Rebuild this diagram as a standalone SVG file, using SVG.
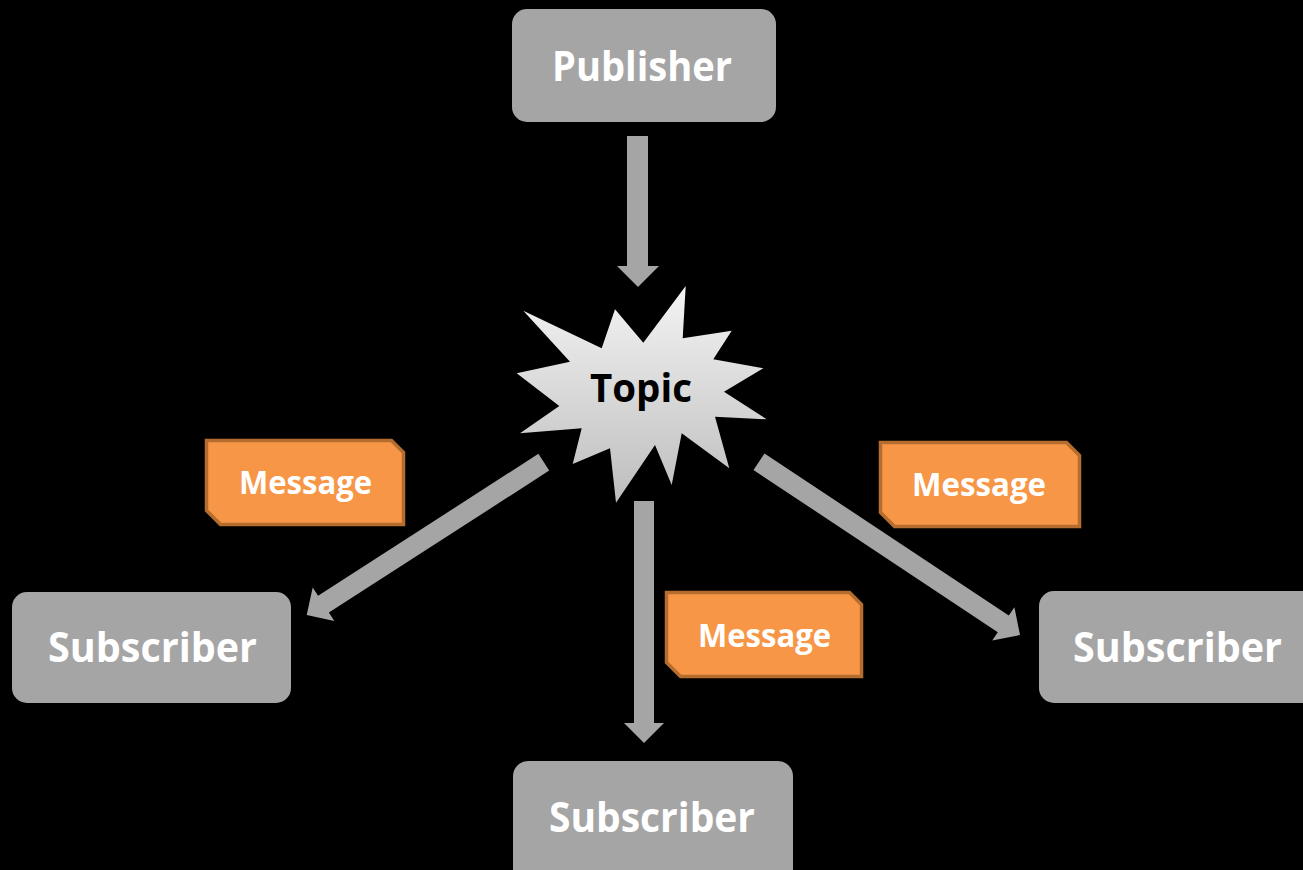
<svg xmlns="http://www.w3.org/2000/svg" width="1303" height="870" viewBox="0 0 1303 870">
  <defs>
    <linearGradient id="burstFill" x1="0" y1="0" x2="0" y2="1">
      <stop offset="0" stop-color="#f4f4f4"/>
      <stop offset="1" stop-color="#bdbdbd"/>
    </linearGradient>
    <style>
      .box { fill: #a5a5a5; }
      .boxText { fill: #ffffff; font-family: "Open Sans", "Liberation Sans", sans-serif; font-weight: bold; font-size: 42px; text-anchor: middle; }
      .msg { fill: #f79646; stroke: #b56d2f; stroke-width: 3.5; stroke-linejoin: miter; }
      .msgText { fill: #ffffff; font-family: "Open Sans", "Liberation Sans", sans-serif; font-weight: bold; font-size: 32px; text-anchor: middle; }
      .arrow { fill: #a5a5a5; }
      .topicText { fill: #000000; font-family: "Open Sans", "Liberation Sans", sans-serif; font-weight: bold; font-size: 40px; text-anchor: middle; }
    </style>
  </defs>

  <rect x="0" y="0" width="1303" height="870" fill="#000000"/>

  <!-- block arrows -->
  <g id="connectors">
    <polygon class="arrow" points="627,136 648,136 648,266 659,266 638,287 617,266 627,266"/>
    <polygon class="arrow" points="634,501 654,501 654,723 664,723 644,743 624,723 634,723"/>
    <polygon class="arrow" points="538.4,453.8 318.1,595.8 312.7,587.4 306.7,615 334.3,621 328.9,612.6 549.2,470.6"/>
    <polygon class="arrow" points="764.5,453.4 1008.8,615.6 1014.4,607.2 1020,635 992.2,640.6 997.8,632.2 753.5,470"/>
  </g>

  <g id="publisher">
    <rect class="box" x="512" y="9" width="264" height="113" rx="15"/>
    <text class="boxText" x="642" y="81" textLength="180" lengthAdjust="spacingAndGlyphs">Publisher</text>
  </g>

  <g id="topic">
    <polygon fill="url(#burstFill)" points="685.7,286 682.7,338.3 731.7,330.7 713.3,359.3 763.3,368.3 724,391.7 766.7,419.3 715,416.7 729.3,468.3 681.7,433.3 671.7,485 655,445 616,502.7 610,448.3 572.7,464 581.7,428.3 520,433.3 559.3,406 516.7,373.3 570,361.7 523.3,310.7 601.7,348.3 615,309.3 643.3,342.7"/>
    <text class="topicText" x="641" y="402" textLength="102" lengthAdjust="spacingAndGlyphs">Topic</text>
  </g>

  <g id="message-left">
    <path class="msg" d="M206.5,440.5 H391.5 L403.5,452.5 V524.5 H220.5 L206.5,510.5 Z"/>
    <text class="msgText" x="305.5" y="494" textLength="133" lengthAdjust="spacingAndGlyphs">Message</text>
  </g>

  <g id="message-middle">
    <path class="msg" d="M666.5,592.5 H849.5 L861.5,604.5 V676.5 H680.5 L666.5,662.5 Z"/>
    <text class="msgText" x="764.5" y="647" textLength="133" lengthAdjust="spacingAndGlyphs">Message</text>
  </g>

  <g id="message-right">
    <path class="msg" d="M880.5,442.5 H1066.5 L1079.5,455.5 V526.5 H894.5 L880.5,512.5 Z"/>
    <text class="msgText" x="979" y="496" textLength="134" lengthAdjust="spacingAndGlyphs">Message</text>
  </g>

  <g id="subscriber-left">
    <rect class="box" x="12" y="592" width="279" height="111" rx="15"/>
    <text class="boxText" x="152.5" y="662" textLength="209" lengthAdjust="spacingAndGlyphs">Subscriber</text>
  </g>

  <g id="subscriber-bottom">
    <rect class="box" x="513" y="761" width="280" height="125" rx="15"/>
    <text class="boxText" x="652" y="832" textLength="206" lengthAdjust="spacingAndGlyphs">Subscriber</text>
  </g>

  <g id="subscriber-right">
    <rect class="box" x="1039" y="591" width="279" height="112" rx="15"/>
    <text class="boxText" x="1177.5" y="662" textLength="209" lengthAdjust="spacingAndGlyphs">Subscriber</text>
  </g>
</svg>
